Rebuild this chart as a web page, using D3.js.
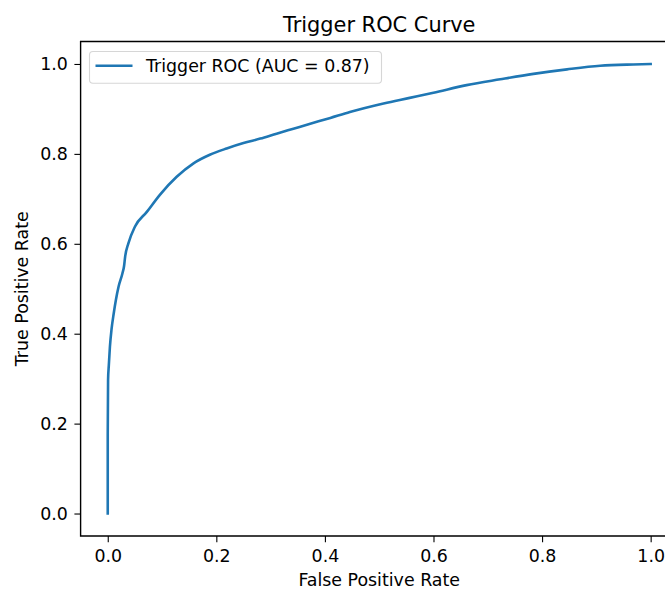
<!DOCTYPE html>
<html>
<head>
<meta charset="utf-8">
<script src="https://cdn.jsdelivr.net/npm/d3@7"></script>
<style>
  body { margin: 0; background: #fff; }
  svg { font-family: "DejaVu Sans", sans-serif; }
</style>
</head>
<body>
<script>
var width = 665;
var height = 589;

// axes box (matplotlib style, right edge runs off the picture)
var margin = {top: 41.5, left: 80.6, right: 677.8, bottom: 536};

// ROC curve
var fpr = [0, 0, 0.0006, 0.002, 0.004, 0.007, 0.011, 0.015, 0.020, 0.027, 0.030, 0.032,
           0.038, 0.050, 0.072, 0.096, 0.127, 0.158, 0.188, 0.219, 0.250, 0.281, 0.311,
           0.342, 0.373, 0.410, 0.446, 0.508, 0.538, 0.570, 0.600, 0.661, 0.723, 0.784,
           0.846, 0.907, 0.968, 1.0];
var tpr = [0, 0.178, 0.297, 0.33, 0.371, 0.41, 0.445, 0.475, 0.505, 0.534, 0.55, 0.571,
           0.601, 0.638, 0.671, 0.709, 0.749, 0.779, 0.798, 0.812, 0.824, 0.834, 0.845,
           0.856, 0.867, 0.880, 0.893, 0.912, 0.920, 0.928, 0.936, 0.953, 0.966, 0.978,
           0.988, 0.996, 0.999, 1.0];

var xTicks = [0, 0.2, 0.4, 0.6, 0.8, 1.0];
var yTicks = [0, 0.2, 0.4, 0.6, 0.8, 1.0];
var legendLabel = "Trigger ROC (AUC = 0.87)";

var fontSize = 17.4;
var tickLen = 6.2;

var svg = d3.select("body")
  .append("svg")
  .attr("width", width)
  .attr("height", height);

var xScale = d3.scaleLinear()
  .domain([-0.05, 1.05])
  .range([margin.left, margin.right]);

var yScale = d3.scaleLinear()
  .domain([-0.05, 1.05])
  .range([margin.bottom, margin.top]);

// curve
var line = d3.line()
  .x(function(d, i) { return xScale(fpr[i]); })
  .y(function(d, i) { return yScale(tpr[i]); })
  .curve(d3.curveMonotoneX);

svg.append("path")
  .datum(fpr)
  .attr("d", line)
  .attr("fill", "none")
  .attr("stroke", "#1f77b4")
  .attr("stroke-width", 2.6)
  .attr("stroke-linejoin", "round")
  .attr("stroke-linecap", "square");

// axes
var xAxis = svg.append("g")
  .attr("transform", "translate(0," + margin.bottom + ")")
  .call(d3.axisBottom(xScale).tickValues(xTicks).tickFormat(d3.format(".1f"))
    .tickSizeInner(tickLen).tickSizeOuter(0).tickPadding(6.5));

var yAxis = svg.append("g")
  .attr("transform", "translate(" + margin.left + ",0)")
  .call(d3.axisLeft(yScale).tickValues(yTicks).tickFormat(d3.format(".1f"))
    .tickSizeInner(tickLen).tickSizeOuter(0).tickPadding(6.5));

[xAxis, yAxis].forEach(function(a) {
  a.select(".domain").remove();
  a.selectAll(".tick line").attr("stroke", "#000").attr("stroke-width", 1.1);
  a.selectAll(".tick text")
    .attr("fill", "#000")
    .style("font-size", fontSize + "px")
    .style("font-family", "DejaVu Sans, sans-serif");
});
xAxis.selectAll(".tick text").attr("dy", "0.74em");

// spines: left, top, bottom (right edge is cropped away)
svg.append("path")
  .attr("d", "M" + width + "," + margin.top + "H" + margin.left + "V" + margin.bottom + "H" + width)
  .attr("fill", "none")
  .attr("stroke", "#000")
  .attr("stroke-width", 1.4);

// title and labels
svg.append("text")
  .attr("x", (margin.left + margin.right) / 2)
  .attr("y", 32)
  .attr("text-anchor", "middle")
  .style("font-size", "20.9px")
  .text("Trigger ROC Curve");

svg.append("text")
  .attr("x", (margin.left + margin.right) / 2)
  .attr("y", 586)
  .attr("text-anchor", "middle")
  .style("font-size", fontSize + "px")
  .text("False Positive Rate");

svg.append("text")
  .attr("transform", "translate(27.5," + ((margin.top + margin.bottom) / 2) + ") rotate(-90)")
  .attr("text-anchor", "middle")
  .style("font-size", fontSize + "px")
  .text("True Positive Rate");

// legend
var legend = svg.append("g");
legend.append("rect")
  .attr("x", 89.5)
  .attr("y", 51.5)
  .attr("width", 292)
  .attr("height", 31.8)
  .attr("rx", 3.5)
  .attr("fill", "#fff")
  .attr("fill-opacity", 0.8)
  .attr("stroke", "#d6d6d6")
  .attr("stroke-width", 1.1);

legend.append("line")
  .attr("x1", 95.5)
  .attr("x2", 132.5)
  .attr("y1", 65.7)
  .attr("y2", 65.7)
  .attr("stroke", "#1f77b4")
  .attr("stroke-width", 2.6);

legend.append("text")
  .attr("x", 146)
  .attr("y", 65.7)
  .attr("dy", "0.36em")
  .style("font-size", fontSize + "px")
  .text(legendLabel);
</script>
</body>
</html>
